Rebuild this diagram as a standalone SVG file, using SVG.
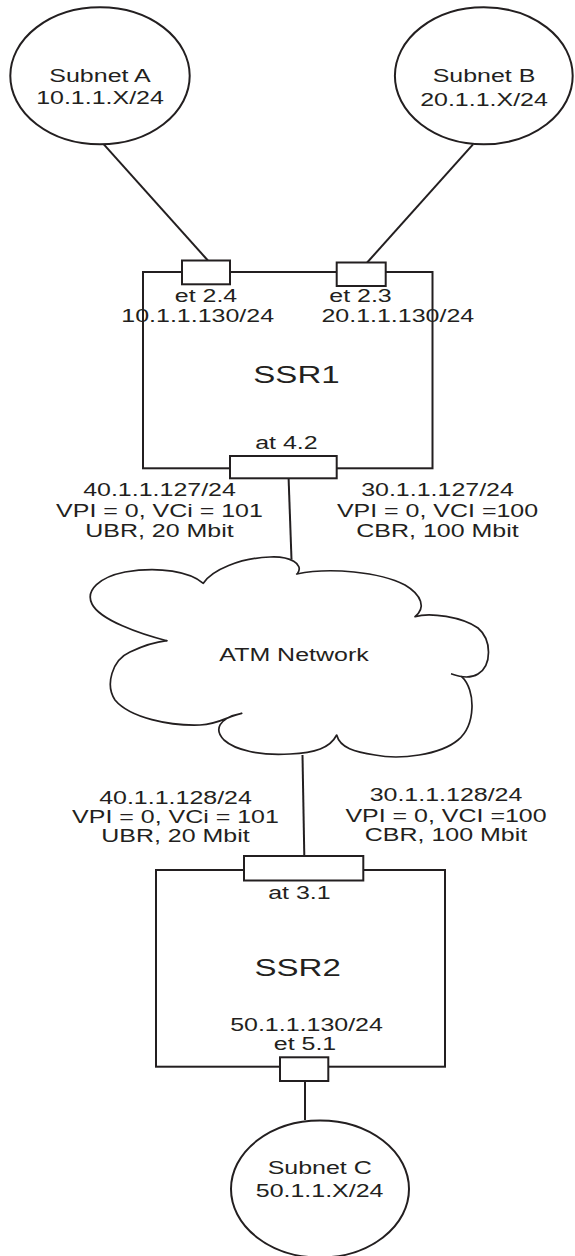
<svg xmlns="http://www.w3.org/2000/svg" width="575" height="1256" viewBox="0 0 575 1256">
<style>
.t{font-family:"Liberation Sans",Arial,Helvetica,sans-serif;font-size:18.5px;text-anchor:middle;fill:#231f20}
.big{font-size:24.5px}
.ln{stroke:#231f20;stroke-width:2;fill:none}
.box{stroke:#231f20;stroke-width:2;fill:none}
.port{stroke:#231f20;stroke-width:2;fill:#fff}
.ell{stroke:#231f20;stroke-width:2;fill:#fff}
.cloud{stroke:#231f20;stroke-width:1.7;fill:none;stroke-linejoin:round;stroke-linecap:round}
</style>
<rect width="575" height="1256" fill="#fff"/>
<g id="connectors">
<line class="ln" x1="103.8" y1="144.3" x2="207.9" y2="260.5"/>
<line class="ln" x1="473" y1="144.3" x2="364.5" y2="265.5"/>
<line class="ln" x1="288.6" y1="478.3" x2="291.5" y2="559.5"/>
<line class="ln" x1="302.5" y1="755" x2="304.3" y2="856"/>
<line class="ln" x1="305" y1="1081" x2="305" y2="1120"/>
</g>
<g id="subnetA">
<ellipse class="ell" cx="100" cy="75.8" rx="89.7" ry="68.5"/>
<text class="t" transform="translate(100,0) scale(1.35,1)" x="0" y="82">Subnet A</text>
<text class="t" transform="translate(100,0) scale(1.35,1)" x="0" y="104">10.1.1.X/24</text>
</g>
<g id="subnetB">
<ellipse class="ell" cx="483.8" cy="75.8" rx="88.9" ry="68.5"/>
<text class="t" transform="translate(484,0) scale(1.35,1)" x="0" y="82">Subnet B</text>
<text class="t" transform="translate(484,0) scale(1.35,1)" x="0" y="106">20.1.1.X/24</text>
</g>
<g id="ssr1">
<rect class="box" x="143" y="272" width="289.5" height="196.3"/>
<rect class="port" x="182" y="260.5" width="48" height="23.8"/>
<rect class="port" x="336.7" y="262.5" width="49" height="23.5"/>
<rect class="port" x="230" y="456" width="106.7" height="22.3"/>
<text class="t" transform="translate(206,0) scale(1.35,1)" x="0" y="302.5">et 2.4</text>
<text class="t" transform="translate(197.7,0) scale(1.35,1)" x="0" y="322">10.1.1.130/24</text>
<text class="t" transform="translate(360.5,0) scale(1.35,1)" x="0" y="302.5">et 2.3</text>
<text class="t" transform="translate(397.8,0) scale(1.35,1)" x="0" y="322">20.1.1.130/24</text>
<text class="t big" transform="translate(296.5,0) scale(1.35,1)" x="0" y="383.3">SSR1</text>
<text class="t" transform="translate(286.4,0) scale(1.35,1)" x="0" y="449">at 4.2</text>
</g>
<g id="labels-ssr1">
<text class="t" transform="translate(159.5,0) scale(1.35,1)" x="0" y="496">40.1.1.127/24</text>
<text class="t" transform="translate(159.5,0) scale(1.35,1)" x="0" y="517">VPI = 0, VCi = 101</text>
<text class="t" transform="translate(159.5,0) scale(1.35,1)" x="0" y="537">UBR, 20 Mbit</text>
<text class="t" transform="translate(437.5,0) scale(1.35,1)" x="0" y="496">30.1.1.127/24</text>
<text class="t" transform="translate(437.5,0) scale(1.35,1)" x="0" y="517">VPI = 0, VCI =100</text>
<text class="t" transform="translate(437.5,0) scale(1.35,1)" x="0" y="537">CBR, 100 Mbit</text>
</g>
<g id="atm">
<path class="cloud" d="M166.7,640.7 C140,634 100,620 92,604 C85,590 100,577 125,572 C160,566 190,572 203.3,583.3 C212,570 240,558 270,557 C290,556 304,564 297.7,573.3"/>
<path class="cloud" d="M296.7,574 C330,567 380,572 405,585 C422,595 426,608 415,616.7 C430,612 462,617 478,628 C492,640 492,665 478,674 C470,679 460,677 451.7,674"/>
<path class="cloud" d="M461.7,676.7 C476,690 476,725 458,740 C440,755 400,760 375,755 C355,752 340,748 336.7,735 C330,748 315,753 290,754 C260,756 235,750 224,740 C214,730 218,718 241.7,713.3 C228,716 220,724 200,725 C170,726 130,718 115,700 C105,685 112,660 130,652 C145,645 155,642 166.7,640.7"/>
<text class="t" transform="translate(294,0) scale(1.35,1)" x="0" y="661">ATM Network</text>
</g>
<g id="labels-ssr2">
<text class="t" transform="translate(175.5,0) scale(1.35,1)" x="0" y="804">40.1.1.128/24</text>
<text class="t" transform="translate(175.5,0) scale(1.35,1)" x="0" y="823.5">VPI = 0, VCi = 101</text>
<text class="t" transform="translate(175.5,0) scale(1.35,1)" x="0" y="842.5">UBR, 20 Mbit</text>
<text class="t" transform="translate(446,0) scale(1.35,1)" x="0" y="801.5">30.1.1.128/24</text>
<text class="t" transform="translate(446,0) scale(1.35,1)" x="0" y="822">VPI = 0, VCI =100</text>
<text class="t" transform="translate(446,0) scale(1.35,1)" x="0" y="841">CBR, 100 Mbit</text>
</g>
<g id="ssr2">
<rect class="box" x="156" y="870" width="289" height="196.7"/>
<rect class="port" x="244" y="856" width="119.3" height="24.5"/>
<rect class="port" x="280" y="1057.3" width="48.3" height="23.7"/>
<text class="t" transform="translate(299.4,0) scale(1.35,1)" x="0" y="899.3">at 3.1</text>
<text class="t big" transform="translate(297.7,0) scale(1.35,1)" x="0" y="976">SSR2</text>
<text class="t" transform="translate(306.5,0) scale(1.35,1)" x="0" y="1031">50.1.1.130/24</text>
<text class="t" transform="translate(305,0) scale(1.35,1)" x="0" y="1050.5">et 5.1</text>
</g>
<g id="subnetC">
<ellipse class="ell" cx="320" cy="1189" rx="89" ry="68.5"/>
<text class="t" transform="translate(319.7,0) scale(1.35,1)" x="0" y="1174">Subnet C</text>
<text class="t" transform="translate(319.6,0) scale(1.35,1)" x="0" y="1196.7">50.1.1.X/24</text>
</g>
</svg>
